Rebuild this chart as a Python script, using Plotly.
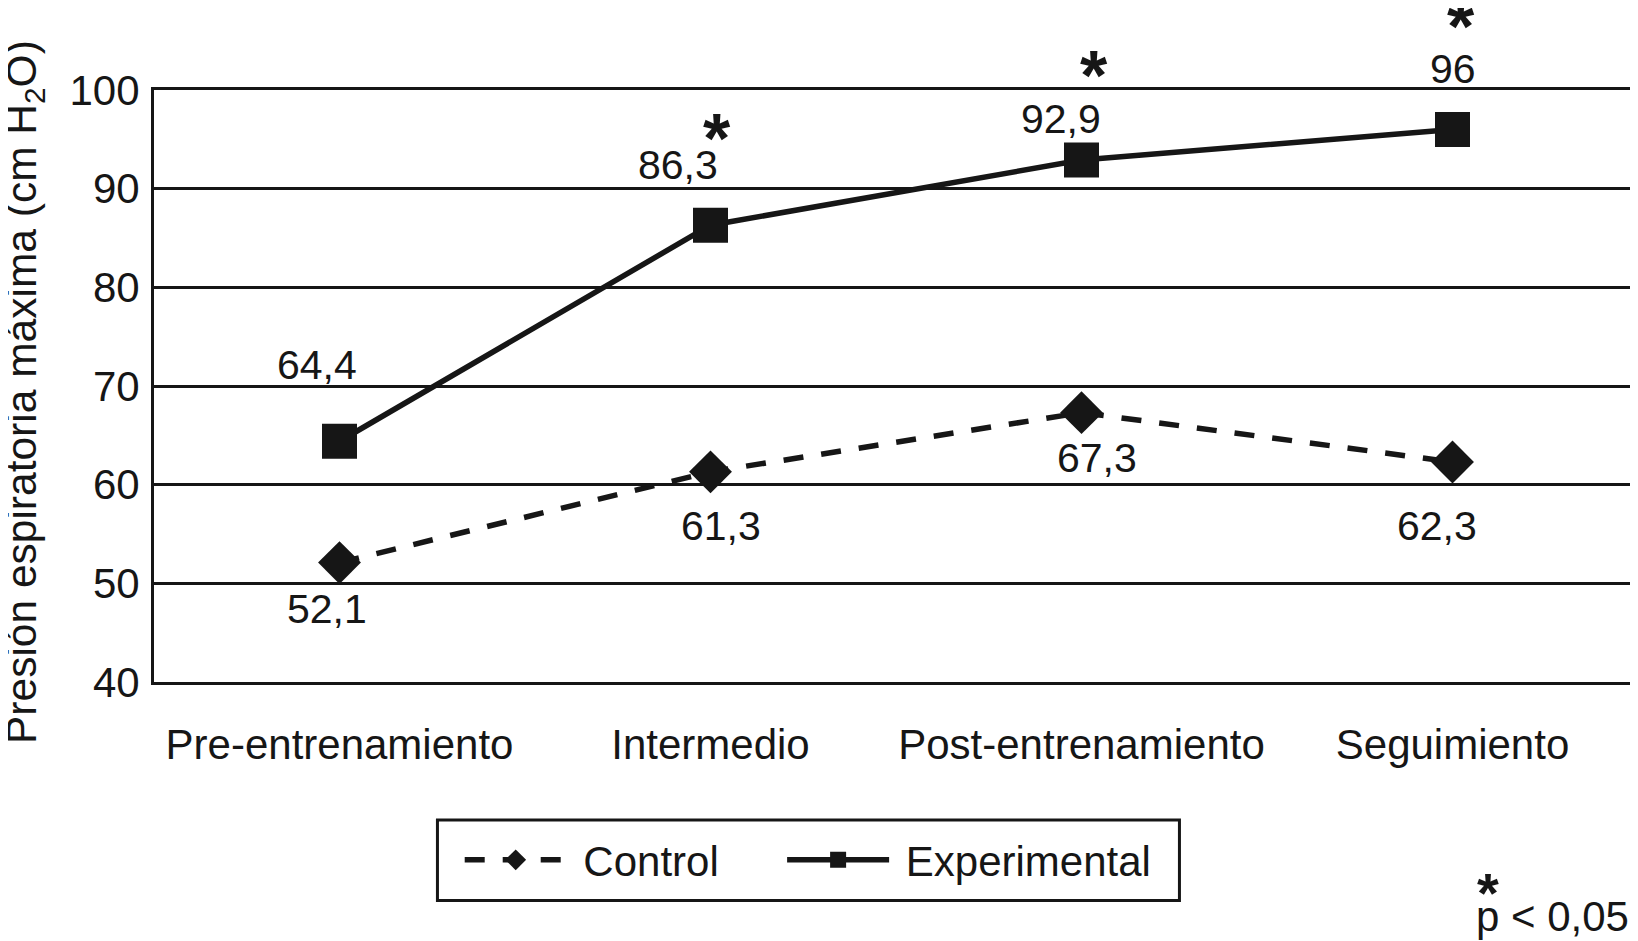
import plotly.graph_objects as go

categories = ["Pre-entrenamiento", "Intermedio", "Post-entrenamiento", "Seguimiento"]
control = [52.1, 61.3, 67.3, 62.3]
experimental = [64.4, 86.3, 92.9, 96]
control_labels = ["52,1", "61,3", "67,3", "62,3"]
experimental_labels = ["64,4", "86,3", "92,9", "96"]
significant = [False, True, True, True]
y_ticks = [40, 50, 60, 70, 80, 90, 100]
y_title = "Presión espiratoria máxima (cm H<sub>2</sub>O)"

# label offsets in pixels (style, not data)
exp_off = [(-23, 76), (-33, 60), (-21, 41), (0, 60)]
ctl_off = [(-13, -46), (10, -54), (15, -45), (-16, -64)]
star_off = [None, (6, 86), (12, 84), (8, 102)]

FONT = "Liberation Sans, Arial, Helvetica, sans-serif"
FS = 42
FL = 41
INK = "#161616"
NB = "\u00a0"

fig = go.Figure()
fig.add_trace(go.Scatter(
    x=categories, y=control, name=NB + "Control" + NB * 5, mode="lines+markers",
    line=dict(color=INK, width=5.5, dash="20px,18px"),
    marker=dict(symbol="diamond", size=33, color=INK),
    cliponaxis=False,
))
fig.add_trace(go.Scatter(
    x=categories, y=experimental, name=NB + "Experimental", mode="lines+markers",
    line=dict(color=INK, width=5.5),
    marker=dict(symbol="square", size=35, color=INK),
    cliponaxis=False,
))

ann = []
for i, c in enumerate(categories):
    dx, dy = exp_off[i]
    ann.append(dict(x=c, y=experimental[i], text=experimental_labels[i], showarrow=False,
                    xshift=dx, yshift=dy, font=dict(size=FL, color=INK, family=FONT)))
    dx, dy = ctl_off[i]
    ann.append(dict(x=c, y=control[i], text=control_labels[i], showarrow=False,
                    xshift=dx, yshift=dy, font=dict(size=FL, color=INK, family=FONT)))
    if significant[i]:
        dx, dy = star_off[i]
        ann.append(dict(x=c, y=experimental[i], text="<b>*</b>", showarrow=False,
                        xshift=dx, yshift=dy, font=dict(size=70, color=INK, family=FONT)))

ann.append(dict(xref="paper", yref="paper", x=1, y=-0.3956, xanchor="right", xshift=-7, yshift=-26,
                text="p < 0,05", showarrow=False, font=dict(size=FS, color=INK, family=FONT)))
ann.append(dict(xref="paper", yref="paper", x=1, y=-0.3956, xanchor="center", xshift=-150, yshift=-10,
                text="<b>*</b>", showarrow=False, font=dict(size=56, color=INK, family=FONT)))
# y-axis title
ann.append(dict(xref="paper", yref="paper", x=0, y=0.5, xanchor="center", yanchor="middle",
                xshift=-130, yshift=-6, textangle=-90, text=y_title, showarrow=False,
                font=dict(size=42.5, color=INK, family=FONT)))

fig.update_layout(
    width=1630, height=933,
    margin=dict(l=146, r=0, t=82, b=259, autoexpand=False),
    paper_bgcolor="white", plot_bgcolor="white",
    font=dict(family=FONT, size=FS, color=INK),
    showlegend=True,
    legend=dict(orientation="h", x=0.206, xanchor="left", y=-0.3007, yanchor="middle",
                borderwidth=0, font=dict(size=FS), bgcolor="rgba(0,0,0,0)",
                itemsizing="trace", itemwidth=102),
    shapes=[dict(type="rect", xref="paper", yref="paper", x0=0.191, x1=0.691,
                 y0=-0.369, y1=-0.233, line=dict(color=INK, width=3))],
    annotations=ann,
)
fig.update_xaxes(type="category", range=[-0.5, 3.5], showgrid=False, showline=True, mirror=True,
                 linecolor=INK, linewidth=3, ticks="", ticklabelstandoff=24,
                 tickfont=dict(size=FS), automargin=False)
fig.update_yaxes(range=[40, 100], tickvals=y_ticks, showgrid=True, gridcolor=INK,
                 gridwidth=3, showline=True, linecolor=INK, linewidth=3, ticks="",
                 ticklabelstandoff=3, zeroline=False, tickfont=dict(size=FS), automargin=False)

fig.write_html("out.html")
